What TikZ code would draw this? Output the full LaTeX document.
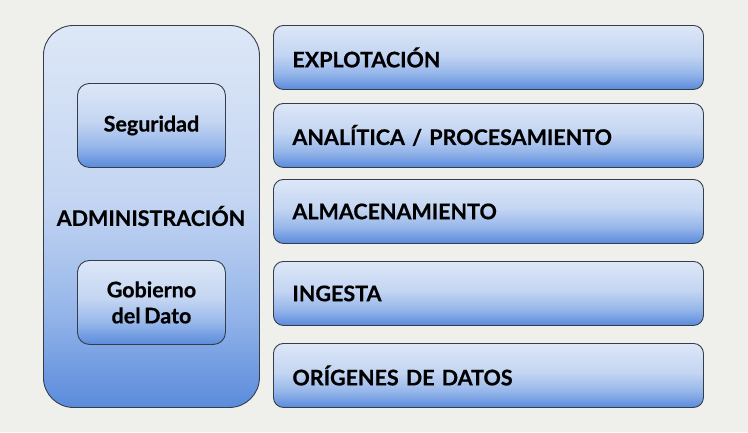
\documentclass[tikz,border=0pt]{standalone}
\usepackage{fontspec}
\setmainfont{Lato}[BoldFeatures={FakeBold=0.6}, WordSpace=0.7]
\definecolor{bgc}{HTML}{EFEFEB}
\definecolor{edgec}{HTML}{363D4A}
\definecolor{ctop}{HTML}{DDE7F7}
\definecolor{cmid}{HTML}{C3D5F2}
\definecolor{clow}{HTML}{97B7EA}
\definecolor{cbot}{HTML}{5A8BDB}
\pgfdeclareverticalshading{boxshade}{100bp}{color(0bp)=(cbot); color(25bp)=(cbot); color(38bp)=(clow); color(52bp)=(cmid); color(75bp)=(ctop); color(100bp)=(ctop)}
\tikzset{
  txt/.style={font=\bfseries\fontsize{21.5}{26}\selectfont, text=black},
  base/.style={draw=edgec, line width=0.9pt, shading=boxshade, txt},
  rbox/.style={base, rounded corners=10pt, minimum width=430pt, minimum height=64pt, text width=392pt, inner xsep=19pt, align=left, anchor=north west},
  sbox/.style={base, rounded corners=12pt, minimum width=148pt, minimum height=84pt, align=center, anchor=north west},
  bigbox/.style={base, rounded corners=30pt, minimum width=216pt, minimum height=382pt, anchor=north west},
  lbl/.style={txt}
}
\begin{document}
\begin{tikzpicture}[x=1pt,y=-1pt]
\useasboundingbox[fill=bgc] (0,0) rectangle (748,432);
\node[bigbox] (admin) at (43,25) {};
\node[lbl] (admintxt) at (151,216) {ADMINISTRACIÓN};
\node[sbox] (seg) at (77,83) {Seguridad};
\node[sbox] (gob) at (77,260) {Gobierno\\del Dato};
\node[rbox] (expl) at (273,25) {EXPLOTACIÓN};
\node[rbox] (anal) at (273,103) {ANALÍTICA / PROCESAMIENTO};
\node[rbox] (alma) at (273,179) {ALMACENAMIENTO};
\node[rbox] (ing) at (273,261) {INGESTA};
\node[rbox] (orig) at (273,343) {ORÍGENES DE DATOS};
\end{tikzpicture}
\end{document}
